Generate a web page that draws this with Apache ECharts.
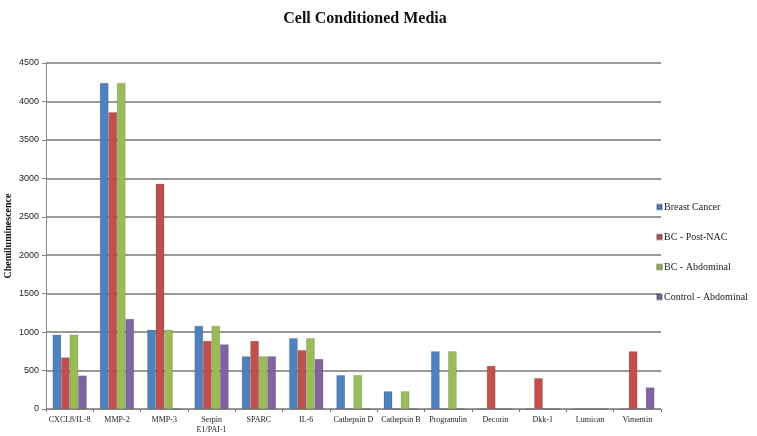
<!DOCTYPE html>
<html>
<head>
    <meta charset="utf-8">
    <title>Cell Conditioned Media</title>
    <script src="https://cdn.jsdelivr.net/npm/echarts@6/dist/echarts.min.js"></script>
    <style>
        html, body { margin: 0; padding: 0; background: #fff; }
        #chart { width: 757px; height: 436px; }
    </style>
</head>
<body>
<div id="chart"></div>
<script>
    var categories = ['CXCL8/IL-8', 'MMP-2', 'MMP-3', 'Serpin\nE1/PAI-1', 'SPARC', 'IL-6', 'Cathepsin D',
        'Cathepsin B', 'Progranulin', 'Decorin', 'Dkk-1', 'Lumican', 'Vimentin'];
    var seriesNames = ['Breast Cancer', 'BC - Post-NAC', 'BC - Abdominal', 'Control - Abdominal'];
    var breastCancer = [965, 4240, 1030, 1080, 685, 920, 440, 230, 750, 0, 0, 0, 0];
    var bcPostNac = [670, 3860, 2930, 885, 885, 765, 0, 0, 0, 560, 400, 0, 750];
    var bcAbdominal = [965, 4240, 1030, 1080, 685, 920, 440, 230, 750, 0, 0, 0, 0];
    var controlAbdominal = [435, 1170, 0, 840, 685, 650, 0, 0, 0, 0, 0, 0, 280];
    var colors = ['#4F81BD', '#C0504D', '#9BBB59', '#8064A2'];

    var chart = echarts.init(document.getElementById('chart'));
    var serif = '"Liberation Serif", "DejaVu Serif", serif';

    function bar(name, data, i) {
        return {
            name: name,
            type: 'bar',
            data: data,
            barGap: '0%',
            barCategoryGap: '28%',
            itemStyle: { color: colors[i], borderColor: 'rgba(0,0,0,0.25)', borderWidth: 0.5 }
        };
    }

    chart.setOption({
        animation: false,
        color: colors,
        title: {
            text: 'Cell Conditioned Media',
            left: 360,
            textAlign: 'center',
            top: 6,
            textStyle: { fontFamily: serif, fontWeight: 'bold', fontSize: 16, color: '#111' }
        },
        legend: {
            orient: 'vertical',
            left: 651,
            top: 197,
            itemWidth: 5,
            itemHeight: 5,
            itemGap: 20,
            icon: 'rect',
            textStyle: { fontFamily: serif, fontSize: 10, color: '#222', padding: [0, 0, 0, -3] },
            data: seriesNames
        },
        grid: { left: 46, right: 96, top: 63, bottom: 27, containLabel: false, outerBoundsMode: 'none' },
        xAxis: {
            type: 'category',
            data: categories,
            axisLine: { lineStyle: { color: '#888', width: 1 } },
            axisTick: { show: true, length: 3, lineStyle: { color: '#777' } },
            axisLabel: { fontFamily: serif, fontSize: 8, color: '#222', interval: 0, margin: 6, lineHeight: 10 }
        },
        yAxis: {
            type: 'value',
            min: 0,
            max: 4500,
            interval: 500,
            name: 'Chemiluminescence',
            nameLocation: 'middle',
            nameGap: 33,
            nameMoveOverlap: false,
            nameTextStyle: { fontFamily: serif, fontWeight: 'bold', fontSize: 10, color: '#111' },
            axisLine: { show: true, lineStyle: { color: '#888' } },
            axisTick: { show: true, length: 4, lineStyle: { color: '#888' } },
            axisLabel: {
                fontFamily: '"Liberation Sans", Arial, sans-serif', fontSize: 9, color: '#222', margin: 7,
                formatter: function (v) { return String(v); }
            },
            splitLine: { lineStyle: { color: '#777', width: 1.5 } }
        },
        series: [
            bar(seriesNames[0], breastCancer, 0),
            bar(seriesNames[1], bcPostNac, 1),
            bar(seriesNames[2], bcAbdominal, 2),
            bar(seriesNames[3], controlAbdominal, 3)
        ]
    });
</script>
</body>
</html>
